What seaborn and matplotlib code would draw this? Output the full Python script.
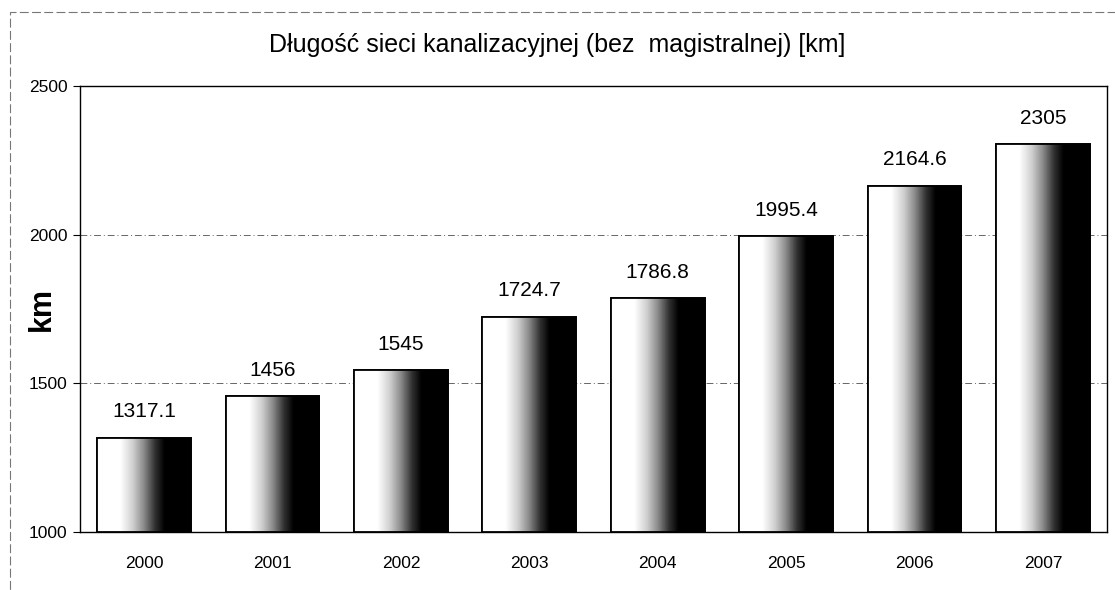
import numpy as np
import pandas as pd
import seaborn as sns
import matplotlib.pyplot as plt
from matplotlib.colors import LinearSegmentedColormap
from matplotlib.patches import Rectangle

# data
years = ["2000", "2001", "2002", "2003", "2004", "2005", "2006", "2007"]
lengths = [1317.1, 1456, 1545, 1724.7, 1786.8, 1995.4, 2164.6, 2305]
value_labels = ["1317.1", "1456", "1545", "1724.7", "1786.8", "1995.4", "2164.6", "2305"]
yticks = [1000, 1500, 2000, 2500]

df = pd.DataFrame({"year": years, "km": lengths})

sns.set_style("white")
plt.rcParams["font.family"] = ["Liberation Sans", "DejaVu Sans"]
plt.rcParams["text.color"] = "black"
plt.rcParams["axes.labelcolor"] = "black"
plt.rcParams["xtick.color"] = "black"
plt.rcParams["ytick.color"] = "black"

fig = plt.figure(figsize=(11.15, 5.9), dpi=100)
ax = fig.add_axes([0.0717, 0.0983, 0.9213, 0.7557])

sns.barplot(data=df, x="year", y="km", color="white", width=0.73,
            edgecolor="black", linewidth=1.2, ax=ax, zorder=3)

# white -> grey -> black horizontal shading inside each bar
shade = LinearSegmentedColormap.from_list(
    "shade", [(0, "white"), (0.25, "white"), (0.38, "#d0d0d0"), (0.5, "#8a8a8a"),
              (0.62, "#303030"), (0.72, "black"), (1, "black")])
grad = np.linspace(0, 1, 256).reshape(1, -1)
for bar in ax.patches:
    x0, w = bar.get_x(), bar.get_width()
    h = bar.get_height()
    im = ax.imshow(grad, cmap=shade, aspect="auto", zorder=3.5,
                   extent=[x0, x0 + w, 1000, h], interpolation="bilinear")
    im.set_clip_path(bar)
    ax.add_patch(Rectangle((x0, 1000), w, h - 1000, fill=False,
                           edgecolor="black", linewidth=1.3, zorder=4))

for i, (v, lab) in enumerate(zip(lengths, value_labels)):
    ax.text(i, v + 55, lab, ha="center", va="bottom", fontsize=15, zorder=5)

ax.set_ylim(1000, 2500)
ax.set_xlim(-0.5, len(years) - 0.5)
ax.set_yticks(yticks)
ax.set_yticklabels([str(t) for t in yticks], fontsize=12.5)
ax.tick_params(axis="x", labelsize=12.5, pad=17, length=0)
ax.tick_params(axis="y", length=5, direction="out", left=True, pad=4)
ax.set_xlabel("")
ax.set_ylabel("km", fontsize=22, fontweight="bold")
ax.yaxis.set_label_coords(-0.022, 0.5)
ax.grid(axis="y", color="#666666", linestyle=(0, (7, 3, 1, 3)), linewidth=0.7, zorder=0)
for s in ax.spines.values():
    s.set_color("black")
    s.set_linewidth(1)

fig.text(0.5, 0.924, "Długość sieci kanalizacyjnej (bez  magistralnej) [km]",
         ha="center", va="center", fontsize=18)

# thin frame around the whole chart
fig.patches.append(Rectangle((0.009, -0.01), 1.2, 0.99, transform=fig.transFigure,
                             fill=False, edgecolor="#777777", linewidth=0.8,
                             linestyle=(0, (8, 3))))

fig.savefig("out.png", dpi=100)
